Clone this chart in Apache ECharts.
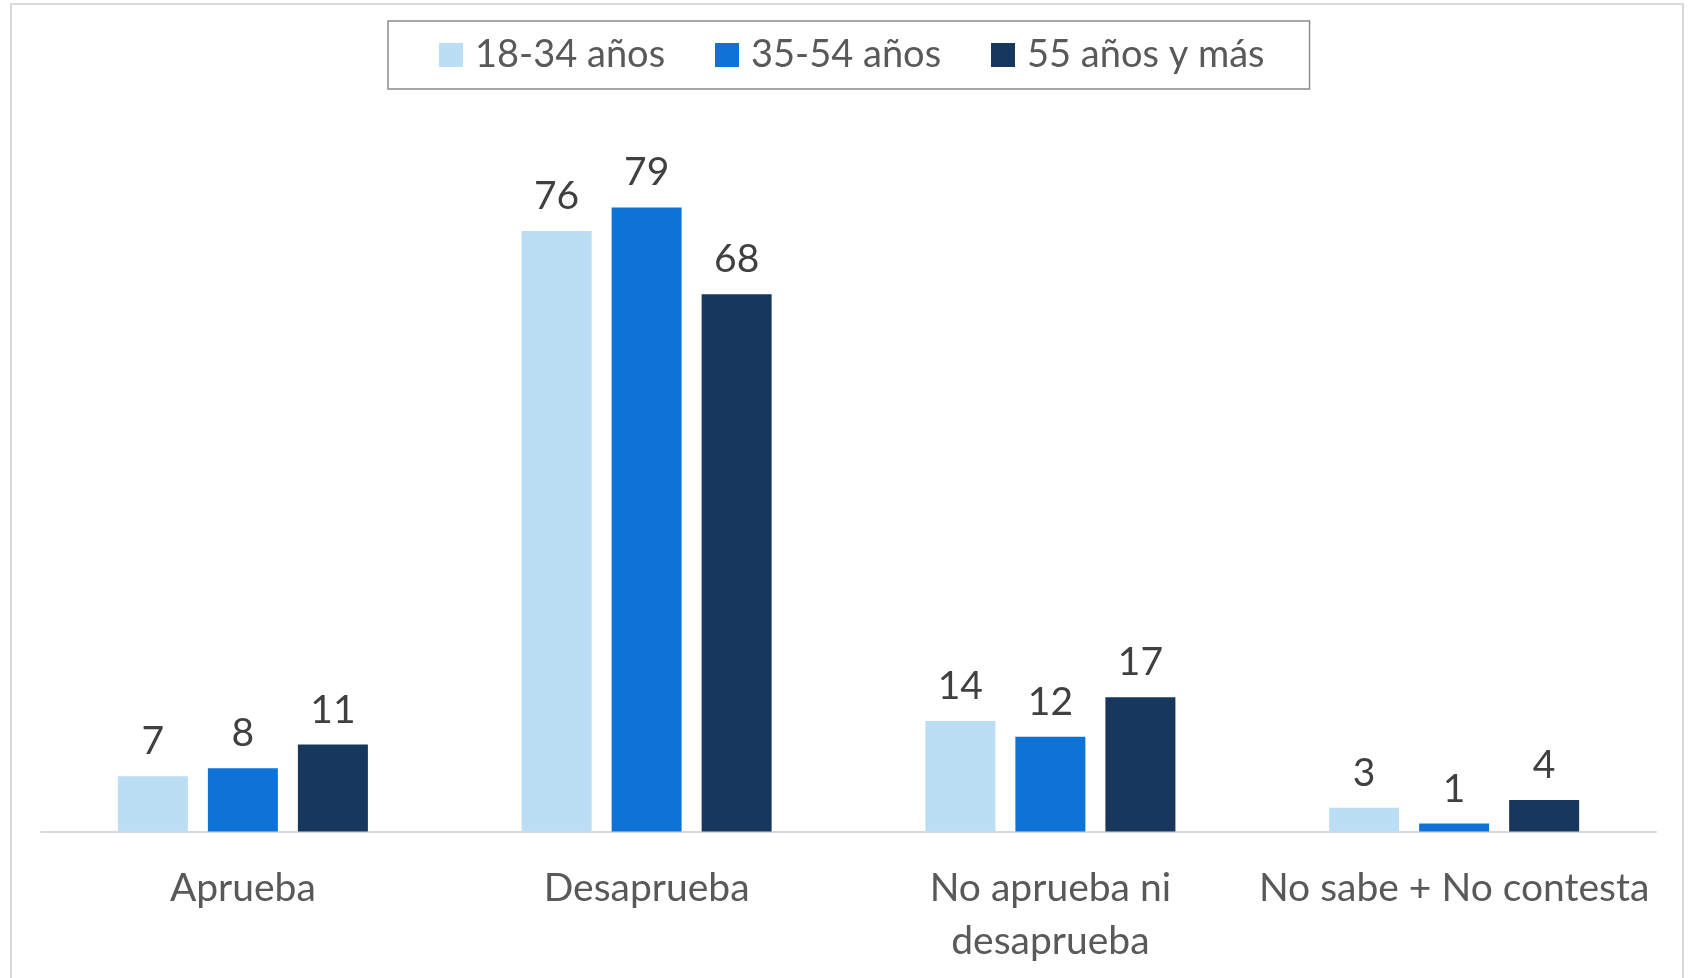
<!DOCTYPE html>
<html>
<head>
<meta charset="utf-8">
<script src="https://cdn.jsdelivr.net/npm/echarts@6/dist/echarts.min.js"></script>
<style>
  html, body { margin: 0; padding: 0; background: #fff; }
  #chart { width: 1688px; height: 978px; }
</style>
</head>
<body>
<div id="chart"></div>
<script>
// datos
const categories = ['Aprueba', 'Desaprueba', 'No aprueba ni\ndesaprueba', 'No sabe + No contesta'];
const seriesNames = ['18-34 años', '35-54 años', '55 años y más'];
const young = [7, 76, 14, 3];
const middle = [8, 79, 12, 1];
const older = [11, 68, 17, 4];

const colors = ['#BBDEF5', '#0F72D7', '#18375E'];
const font = 'Lato';

const chart = echarts.init(document.getElementById('chart'));

function barSeries(name, data, color) {
    return {
        name: name,
        type: 'bar',
        data: data,
        barWidth: 70,
        barGap: '28.6%',
        itemStyle: { color: color },
        label: {
            show: true,
            position: 'top',
            distance: 15,
            color: '#404040',
            fontFamily: font,
            fontSize: 39
        }
    };
}

const option = {
    animation: false,
    backgroundColor: '#fff',
    graphic: [{
        type: 'rect',
        shape: { x: 11, y: 4, width: 1672, height: 1000 },
        style: { fill: 'none', stroke: '#d9d9d9', lineWidth: 2 },
        silent: true,
        z: -1
    }],
    legend: {
        left: 388,
        top: 21,
        orient: 'horizontal',
        itemWidth: 24,
        itemHeight: 24,
        itemGap: 45,
        icon: 'rect',
        padding: [14, 45, 14, 51],
        borderColor: '#8c8c8c',
        borderWidth: 1.5,
        textStyle: {
            fontFamily: font,
            fontSize: 38,
            color: '#595959',
            lineHeight: 40,
            width: 195,
            padding: [0, 0, 0, 7]
        },
        data: seriesNames
    },
    grid: {
        left: 41,
        right: 32,
        top: 120.5,
        bottom: 146.5,
        containLabel: false
    },
    xAxis: {
        type: 'category',
        data: categories,
        axisLine: { lineStyle: { color: '#d9d9d9', width: 2 } },
        axisTick: { show: false },
        axisLabel: {
            interval: 0,
            margin: 30,
            fontFamily: font,
            fontSize: 39,
            lineHeight: 53,
            color: '#595959'
        }
    },
    yAxis: {
        type: 'value',
        min: 0,
        max: 90,
        show: false,
        splitLine: { show: false }
    },
    series: [
        barSeries(seriesNames[0], young, colors[0]),
        barSeries(seriesNames[1], middle, colors[1]),
        barSeries(seriesNames[2], older, colors[2])
    ]
};

chart.setOption(option);
</script>
</body>
</html>
